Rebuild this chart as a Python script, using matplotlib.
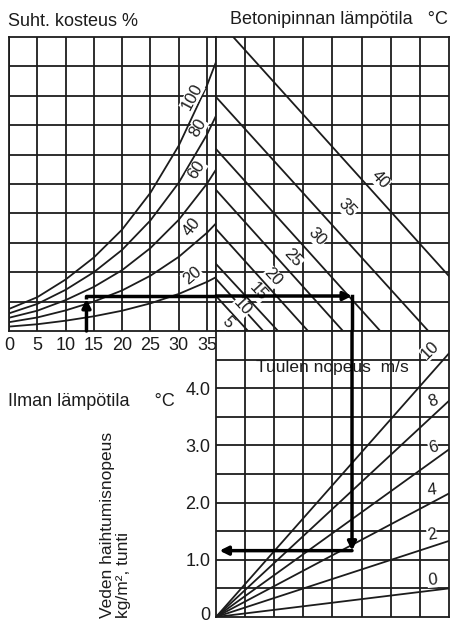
import numpy as np
import matplotlib
matplotlib.use('Agg')
import matplotlib.pyplot as plt
from matplotlib.transforms import ScaledTranslation

plt.rcParams['font.family'] = ['Liberation Sans', 'DejaVu Sans']

# --- data read off the nomograph ---
# air temperature (deg C) where the humidity curves were read
air_temp = [0, 5, 10, 15, 20, 25, 30, 35, 36.6]
# vapour pressure in grid units (top panels, 10 grid rows)
rh100 = [0.75, 1.15, 1.75, 2.50, 3.45, 4.70, 6.30, 8.35, 9.15]
rh80 = [0.60, 0.92, 1.40, 2.00, 2.76, 3.76, 5.04, 6.68, 7.32]
rh60 = [0.45, 0.69, 1.05, 1.50, 2.07, 2.82, 3.78, 5.01, 5.49]
rh40 = [0.30, 0.46, 0.70, 1.00, 1.38, 1.88, 2.52, 3.34, 3.66]
rh20 = [0.15, 0.23, 0.35, 0.50, 0.69, 0.94, 1.26, 1.67, 1.83]
rh_levels = [100, 80, 60, 40, 20]

# concrete surface temperature lines: start on left edge, end on bottom edge
concrete_temp = [5, 10, 15, 20, 25, 30, 35, 40]
concrete_left_y = [1.19, 1.77, 2.28, 3.47, 4.80, 6.19, 7.96, 10.65]
concrete_bottom_x = [1.10, 1.62, 2.13, 3.16, 4.36, 5.64, 7.29, 9.70]

# wind speed lines (m/s): evaporation at right edge of the lower panel
wind_speed = [0, 2, 4, 6, 8, 10]
wind_end_evap = [0.50, 1.33, 2.16, 2.93, 3.78, 4.61]

temp_ticks = [0, 5, 10, 15, 20, 25, 30, 35]
evap_ticks = [0, 1, 2, 3, 4]
evap_labels = ['0', '1.0', '2.0', '3.0', '4.0']

# worked example path
ex_air = 13.7
ex_level = 1.19
ex_x = 4.67
ex_evap = 1.16

W, H = 452, 622
ink = '#1c1c1c'
lw = 1.3

def box(x0, y0, x1, y1):
    return [x0 / W, 1 - y1 / H, (x1 - x0) / W, (y1 - y0) / H]

fig = plt.figure(figsize=(W / 100, H / 100), dpi=100)
ax_l = fig.add_axes(box(9, 37, 216, 331))
ax_r = fig.add_axes(box(216, 37, 449, 331))
ax_e = fig.add_axes(box(216, 331, 449, 617))

for ax in (ax_l, ax_r, ax_e):
    for s in ax.spines.values():
        s.set_color(ink)
        s.set_linewidth(lw)
    ax.tick_params(length=0, labelsize=13, colors=ink)

# left panel: humidity curves
ax_l.set_xlim(0, 36.6)
ax_l.set_ylim(0, 10)
for t in temp_ticks:
    ax_l.axvline(t, color=ink, lw=lw, zorder=1)
for v in range(1, 10):
    ax_l.axhline(v, color=ink, lw=lw, zorder=1)
for curve in (rh100, rh80, rh60, rh40, rh20):
    ax_l.plot(air_temp, curve, color=ink, lw=lw, zorder=2)
ax_l.set_xticks(temp_ticks)
ax_l.set_xticklabels([str(t) for t in temp_ticks])
ax_l.tick_params(axis='x', pad=4)
ax_l.set_yticks([])

rh_pos = [(32.35, 7.96, 62), (33.4, 6.9, 60), (33.2, 5.48, 57), (32.35, 3.54, 52), (32.35, 1.9, 40)]
for lev, (x, y, rot) in zip(rh_levels, rh_pos):
    ax_l.text(x, y, str(lev), rotation=rot, ha='center', va='center', fontsize=12, color=ink,
              bbox=dict(facecolor='white', edgecolor='none', pad=0.3), zorder=3)

# top right: concrete temperature lines
ax_r.set_xlim(0, 8)
ax_r.set_ylim(0, 10)
for v in range(1, 8):
    ax_r.axvline(v, color=ink, lw=lw, zorder=1)
for v in range(1, 10):
    ax_r.axhline(v, color=ink, lw=lw, zorder=1)
for y0, x0 in zip(concrete_left_y, concrete_bottom_x):
    ax_r.plot([0, x0], [y0, 0], color=ink, lw=lw, zorder=2)
ax_r.set_xticks([])
ax_r.set_yticks([])

ct_pos = [(0.41, 0.31), (0.89, 0.82), (1.44, 1.33), (1.96, 1.84), (2.65, 2.48),
          (3.47, 3.20), (4.50, 4.18), (5.64, 5.14)]
for t, (x, y) in zip(concrete_temp, ct_pos):
    ax_r.text(x, y, str(t), rotation=-47, ha='center', va='center', fontsize=12, color=ink,
              bbox=dict(facecolor='white', edgecolor='none', pad=0.3), zorder=3)

# bottom right: wind speed lines
ax_e.set_xlim(0, 8)
ax_e.set_ylim(0, 5)
for v in range(1, 8):
    ax_e.axvline(v, color=ink, lw=lw, zorder=1)
for v in np.arange(0.5, 5, 0.5):
    ax_e.axhline(v, color=ink, lw=lw, zorder=1)
for ev in wind_end_evap:
    ax_e.plot([0, 8], [0, ev], color=ink, lw=lw, zorder=2)
ax_e.set_xticks([])
ax_e.set_yticks(evap_ticks)
ax_e.set_yticklabels(evap_labels)
ax_e.tick_params(axis='y', pad=4)
lab0 = ax_e.get_yticklabels()[0]
lab0.set_transform(lab0.get_transform() + ScaledTranslation(0, 4 / 100, fig.dpi_scale_trans))

ws_pos = [(7.42, 0.65, 5), (7.42, 1.43, 10), (7.42, 2.21, 5), (7.46, 2.97, 15),
          (7.46, 3.78, 20), (7.35, 4.67, 45)]
for v, (x, y, rot) in zip(wind_speed, ws_pos):
    ax_e.text(x, y, str(v), rotation=rot, ha='center', va='center', fontsize=12, color=ink,
              bbox=dict(facecolor='white', edgecolor='none', pad=0.3), zorder=3)

ax_e.text(4.0, 4.37, 'Tuulen nopeus  m/s', ha='center', va='center', fontsize=12.5, color=ink, zorder=3)

# worked example
arrow = dict(arrowstyle='-|>,head_length=0.5,head_width=0.25', lw=2.5, color='black',
             shrinkA=0, shrinkB=0)
ax_l.annotate('', xy=(ex_air, ex_level - 0.1), xytext=(ex_air, 0), arrowprops=arrow, zorder=4)
ax_l.plot([ex_air, ex_air, 36.6], [ex_level - 0.1, ex_level, ex_level], color='black', lw=2.5,
          zorder=4, solid_capstyle='butt')
ax_r.annotate('', xy=(ex_x, ex_level), xytext=(0, ex_level), arrowprops=arrow, zorder=4)
ax_r.plot([ex_x, ex_x], [ex_level, 0], color='black', lw=2.5, zorder=4)
ax_e.annotate('', xy=(ex_x, ex_evap), xytext=(ex_x, 5), arrowprops=arrow, zorder=4)
ax_e.annotate('', xy=(0.12, ex_evap), xytext=(ex_x, ex_evap), arrowprops=arrow, zorder=4)

# labels
fig.text(8 / W, 1 - 21 / H, 'Suht. kosteus %', ha='left', va='center', fontsize=13, color=ink)
fig.text(448 / W, 1 - 19 / H, 'Betonipinnan lämpötila   °C', ha='right', va='center',
         fontsize=13, color=ink)
fig.text(8 / W, 1 - 401 / H, 'Ilman lämpötila     °C', ha='left', va='center', fontsize=13, color=ink)
fig.text(108 / W, 1 - 618 / H, 'Veden haihtumisnopeus', rotation=90, ha='center', va='bottom',
         fontsize=12.5, color=ink)
fig.text(124 / W, 1 - 618 / H, 'kg/m², tunti', rotation=90, ha='center', va='bottom',
         fontsize=12.5, color=ink)

fig.savefig('out.png', dpi=100)
